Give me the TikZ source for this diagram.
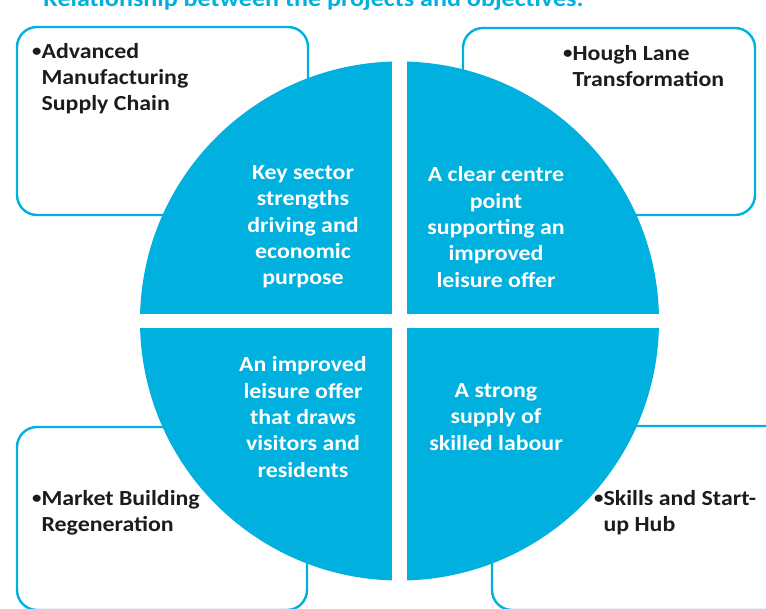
\documentclass[tikz,border=0pt]{standalone}
\usepackage{fontspec}
\setmainfont{Carlito}[FakeStretch=1.11]
\definecolor{skyblue}{RGB}{0,176,222}
\definecolor{inkdark}{RGB}{28,28,30}
\newcommand{\dotmark}{\raisebox{1.6pt}{\fontsize{17}{17}\selectfont\textbullet}}
\newcommand{\dotgap}{\phantom{\dotmark}}

\begin{document}
\begin{tikzpicture}[x=1pt, y=-1pt,
  projbox/.style={draw=skyblue, line width=2.4pt, rounded corners=20pt},
  quad/.style={fill=skyblue},
  goal/.style={text=white, align=center, inner sep=0pt, font=\fontsize{21.5}{26.3}\selectfont\bfseries},
  proj/.style={text=inkdark, align=left, inner sep=0pt, anchor=north west, font=\fontsize{21.5}{26.3}\selectfont\bfseries}]
\useasboundingbox (0,0) rectangle (766,609);

\node [anchor=base west, inner sep=0pt, text=skyblue, font=\fontsize{23.5}{26}\selectfont\bfseries] (title) at (43,7) {Relationship between the projects and objectives.};

\draw [projbox] (17,27) rectangle (308,215);
\draw [projbox] (463,28) rectangle (755,215);
\draw [projbox] (17,427) rectangle (307,610);
\draw [projbox] (492,426) rectangle (790,610);

\coordinate (ctr) at (399.5,321);
\begin{scope}
\clip (ctr) circle (259.5);
\fill [quad] (130,50) rectangle (392,314);
\fill [quad] (407,50) rectangle (670,314);
\fill [quad] (130,328) rectangle (392,590);
\fill [quad] (407,328) rectangle (670,590);
\end{scope}

\node [goal] (keysector) at (303,227) {Key sector\\strengths\\driving and\\economic\\purpose};
\node [goal] (centre) at (496,227) {A clear centre\\point\\supporting an\\improved\\leisure offer};
\node [goal] (leisure) at (303,417) {An improved\\leisure offer\\that draws\\visitors and\\residents};
\node [goal] (labour) at (496,417) {A strong\\supply of\\skilled labour};

\node [proj] (advanced) at (32,43) {\dotmark Advanced\\\dotgap Manufacturing\\\dotgap Supply Chain};
\node [proj] (hough) at (563,45) {\dotmark Hough Lane\\\dotgap Transformation};
\node [proj] (market) at (32,490) {\dotmark Market Building\\\dotgap Regeneration};
\node [proj] (skills) at (594,490) {\dotmark Skills and Start-\\\dotgap up Hub};
\end{tikzpicture}
\end{document}
